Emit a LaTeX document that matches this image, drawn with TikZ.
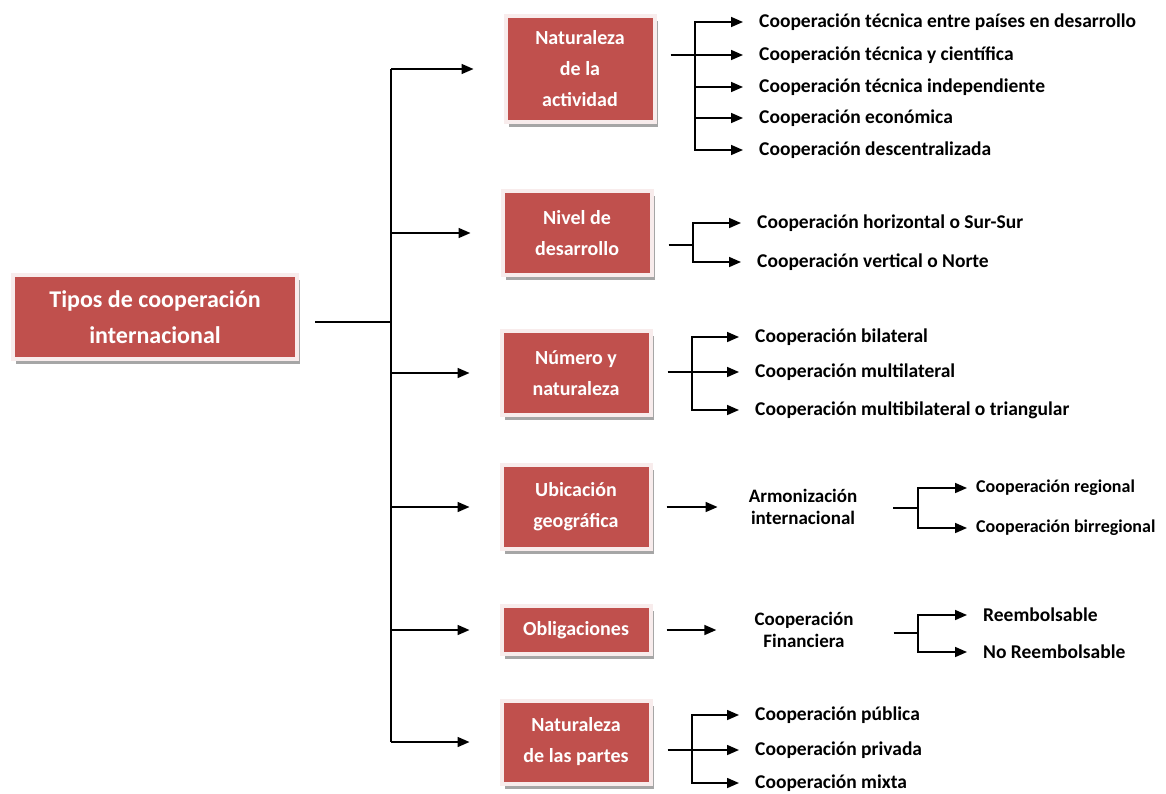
\documentclass[tikz,border=0pt]{standalone}
\usepackage{fontspec}
\setmainfont{Carlito}
\usetikzlibrary{arrows.meta,shadows}
\definecolor{boxred}{RGB}{192,80,77}
\definecolor{boxrim}{RGB}{248,236,236}
\tikzset{
  catbox/.style={fill=boxred, draw=boxrim, line width=4pt, text=white, align=center,
    inner sep=0pt, minimum width=149pt, font=\fontsize{20}{31}\selectfont\bfseries,
    drop shadow={shadow xshift=3pt, shadow yshift=-5pt, fill=black!35, opacity=1}},
  item/.style={anchor=west, inner sep=0pt, font=\fontsize{19.5}{22}\selectfont\bfseries},
  mid/.style={inner sep=0pt, align=center, font=\fontsize{19}{22}\selectfont\bfseries},
  line/.style={line width=1.6pt},
  arr/.style={line, -{Triangle[length=12pt,width=10pt]}},
}
\begin{document}
\begin{tikzpicture}[x=1pt,y=-1pt]
\useasboundingbox (0,0) rectangle (1166,793);
% main boxes
\node[catbox, minimum width=284pt, minimum height=84pt, font=\fontsize{24}{36}\selectfont\bfseries] (root) at (155,317) {Tipos de cooperación\\internacional};
\node[catbox, minimum height=106pt] (nat) at (580,69) {Naturaleza\\de la\\actividad};
\node[catbox, minimum height=84pt] (niv) at (577,233) {Nivel de\\desarrollo};
\node[catbox, minimum height=84pt] (num) at (576,373) {Número y\\naturaleza};
\node[catbox, minimum height=84pt] (ubi) at (576,507) {Ubicación\\geográfica};
\node[catbox, minimum height=48pt] (obl) at (576,630) {Obligaciones};
\node[catbox, minimum height=83pt] (par) at (576,742) {Naturaleza\\de las partes};
% trunk
\coordinate (trunk) at (391,322);
\draw[line, shorten <=16pt] (root.east |- trunk) -- (trunk);
\draw[line] (trunk |- nat) -- (trunk |- par);
\foreach \b in {nat,niv,num,ubi,obl,par}
  \draw[arr, shorten >=30pt] (trunk |- \b) -- (\b.west);
% naturaleza de la actividad
\coordinate (jnat) at (695,55);
\draw[line, shorten <=14pt] (nat.east |- jnat) -- (jnat);
\foreach \y/\txt [count=\i] in {22/Cooperación técnica entre países en desarrollo,
    55/Cooperación técnica y científica, 87/Cooperación técnica independiente,
    118/Cooperación económica, 150/Cooperación descentralizada} {
  \node[item] (nat\i) at (759,\y) {\txt};
  \draw[arr, shorten >=16pt] (jnat) |- (nat\i.west);
}
% nivel de desarrollo
\coordinate (jniv) at (693,245);
\draw[line, shorten <=15pt] (niv.east |- jniv) -- (jniv);
\foreach \y/\txt [count=\i] in {223/Cooperación horizontal o Sur-Sur, 262/Cooperación vertical o Norte} {
  \node[item] (niv\i) at (757,\y) {\txt};
  \draw[arr, shorten >=16pt] (jniv) |- (niv\i.west);
}
% numero y naturaleza
\coordinate (jnum) at (692,372);
\draw[line, shorten <=15pt] (num.east |- jnum) -- (jnum);
\foreach \y/\txt [count=\i] in {337/Cooperación bilateral, 372/Cooperación multilateral,
    410/Cooperación multibilateral o triangular} {
  \node[item] (num\i) at (755,\y) {\txt};
  \draw[arr, shorten >=16pt] (jnum) |- (num\i.west);
}
% ubicacion geografica
\node[mid] (arm) at (803,507) {Armonización\\internacional};
\draw[arr, shorten <=14pt, shorten >=31pt] (ubi) -- (arm);
\coordinate (jubi) at (918,508);
\draw[line, shorten <=36pt] (arm.east |- jubi) -- (jubi);
\foreach \y/\txt [count=\i] in {488/Cooperación regional, 528/Cooperación birregional} {
  \node[item, font=\fontsize{18}{22}\selectfont\bfseries] (ubi\i) at (976,\y) {\txt};
  \draw[arr, shorten >=9pt] (jubi) |- (ubi\i.west);
}
% obligaciones
\node[mid] (fin) at (804,630) {Cooperación\\Financiera};
\draw[arr, shorten <=14pt, shorten >=38pt] (obl) -- (fin);
\coordinate (jobl) at (918,633);
\draw[line, shorten <=40pt] (fin.east |- jobl) -- (jobl);
\foreach \y/\txt [count=\i] in {615/Reembolsable, 652/No Reembolsable} {
  \node[item] (obl\i) at (983,\y) {\txt};
  \draw[arr, shorten >=16pt] (jobl) |- (obl\i.west);
}
% naturaleza de las partes
\coordinate (jpar) at (692,750);
\draw[line, shorten <=15pt] (par.east |- jpar) -- (jpar);
\foreach \y/\txt [count=\i] in {715/Cooperación pública, 750/Cooperación privada, 783/Cooperación mixta} {
  \node[item] (par\i) at (755,\y) {\txt};
  \draw[arr, shorten >=16pt] (jpar) |- (par\i.west);
}
\end{tikzpicture}
\end{document}
